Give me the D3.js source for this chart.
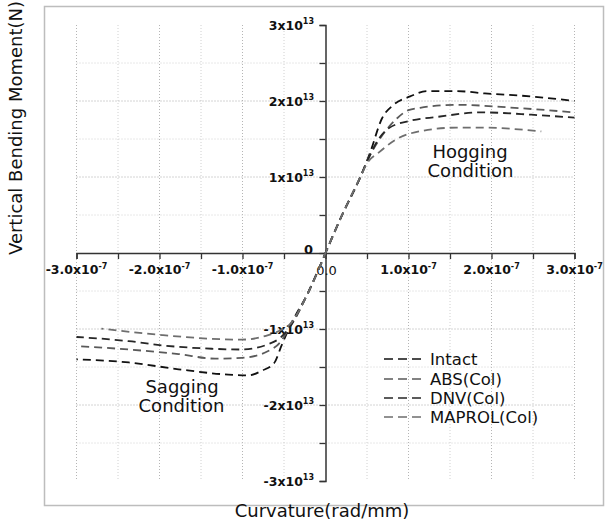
<!DOCTYPE html>
<html>
<head>
<meta charset="utf-8">
<script src="https://cdn.jsdelivr.net/npm/d3@7"></script>
<style>
  html, body { margin: 0; padding: 0; background: #fff; }
  svg { display: block; }
</style>
</head>
<body>
<svg id="chart" width="608" height="522"></svg>
<script>
// Curvature in units of 1e-7 rad/mm, moment in units of 1e13 N
const xTicks = [-3, -2, -1, 0, 1, 2, 3];
const xTickLabels = ["-3.0", "-2.0", "-1.0", "0.0", "1.0", "2.0", "3.0"];
const yTicks = [-3, -2, -1, 0, 1, 2, 3];
const yTickLabels = ["-3", "-2", "-1", "0", "1", "2", "3"];
const seriesNames = ["Intact", "ABS(Col)", "DNV(Col)", "MAPROL(Col)"];
const seriesColors = ["#111111", "#5a5a5a", "#262626", "#6e6e6e"];

const intactX = [-3.0, -2.37, -1.77, -1.17, -0.93, -0.77, -0.62, -0.53, -0.44, -0.2, 0, 0.2, 0.42, 0.54, 0.68, 0.82, 1.02, 1.22, 1.58, 1.92, 2.48, 3.0];
const intactY = [-1.40, -1.44, -1.53, -1.60, -1.61, -1.55, -1.45, -1.22, -0.99, -0.5, 0, 0.5, 1.0, 1.33, 1.77, 1.95, 2.06, 2.13, 2.13, 2.10, 2.06, 2.00];
const absX = [-3.0, -2.37, -1.77, -1.33, -1.01, -0.69, -0.55, -0.44, -0.2, 0, 0.2, 0.42, 0.52, 0.66, 0.86, 1.0, 1.14, 1.58, 2.28, 3.0];
const absY = [-1.225, -1.27, -1.33, -1.39, -1.38, -1.29, -1.18, -0.99, -0.5, 0, 0.5, 1.0, 1.25, 1.51, 1.77, 1.88, 1.91, 1.95, 1.91, 1.85];
const dnvX = [-3.0, -2.37, -1.97, -1.37, -1.01, -0.69, -0.55, -0.44, -0.2, 0, 0.2, 0.42, 0.52, 0.64, 0.76, 1.02, 1.34, 1.88, 2.48, 3.0];
const dnvY = [-1.105, -1.16, -1.215, -1.26, -1.27, -1.20, -1.12, -0.99, -0.5, 0, 0.5, 1.0, 1.25, 1.5, 1.64, 1.74, 1.79, 1.85, 1.82, 1.78];
const maprolX = [-2.7, -1.97, -1.01, -0.69, -0.53, -0.44, -0.2, 0, 0.2, 0.42, 0.5, 0.64, 0.86, 1.18, 1.58, 1.88, 2.6];
const maprolY = [-0.995, -1.08, -1.14, -1.08, -1.01, -0.95, -0.5, 0, 0.5, 1.0, 1.18, 1.32, 1.50, 1.61, 1.65, 1.65, 1.60];

const seriesX = [intactX, absX, dnvX, maprolX];
const seriesY = [intactY, absY, dnvY, maprolY];

const svg = d3.select("#chart");
const font = "'DejaVu Sans', sans-serif";

const x = d3.scaleLinear().domain([-3, 3]).range([76.5, 574.5]);
const y = d3.scaleLinear().domain([-3, 3]).range([481, 25]);

// frame
svg.append("rect").attr("x", 44.5).attr("y", 6.5).attr("width", 559).attr("height", 499)
  .attr("fill", "none").attr("stroke", "#bdbdbd").attr("stroke-width", 1.5);

// grid
const gridVals = d3.range(-3, 3.01, 0.5);
const g = svg.append("g");
g.selectAll(".vg").data(gridVals.filter(v => v !== 0)).enter().append("line")
  .attr("x1", d => x(d)).attr("x2", d => x(d)).attr("y1", y(3)).attr("y2", y(-3))
  .attr("stroke", d => Number.isInteger(d) ? "#b5b5b5" : "#d0d0d0")
  .attr("stroke-width", 1).attr("stroke-dasharray", "1,2");
g.selectAll(".hg").data(gridVals.filter(v => v !== 0 && Math.abs(v) !== 3)).enter().append("line")
  .attr("x1", x(-3)).attr("x2", x(3)).attr("y1", d => y(d)).attr("y2", d => y(d))
  .attr("stroke", d => Number.isInteger(d) ? "#a8a8a8" : "#d0d0d0")
  .attr("stroke-width", 1).attr("stroke-dasharray", "1,2");

// axes
const xAxis = d3.axisBottom(x).tickValues(gridVals).tickSize(6).tickFormat("");
const xg = svg.append("g").attr("transform", `translate(0,${y(0)})`).call(xAxis);
xg.select(".domain").attr("stroke", "#333").attr("stroke-width", 1.5);
xg.selectAll(".tick line").attr("stroke", "#333").attr("stroke-width", 1.3);

const yAxis = d3.axisLeft(y).tickValues(gridVals).tickSize(6).tickFormat("");
const yg = svg.append("g").attr("transform", `translate(${x(0)},0)`).call(yAxis);
yg.select(".domain").attr("stroke", "#333").attr("stroke-width", 1.5);
yg.selectAll(".tick line").attr("stroke", "#333").attr("stroke-width", 1.3);

// x tick labels
xTicks.forEach((v, i) => {
  if (v === 0) {
    svg.append("text").attr("x", x(0) + 1).attr("y", 275).attr("text-anchor", "middle")
      .attr("font-family", font).attr("font-size", 13).attr("fill", "#111").text(xTickLabels[i]);
    return;
  }
  const t = svg.append("text").attr("x", x(v)).attr("y", 274).attr("text-anchor", "middle")
    .attr("font-family", font).attr("font-weight", "bold").attr("font-size", 12.5).attr("fill", "#111");
  t.append("tspan").text(xTickLabels[i] + "x10");
  t.append("tspan").attr("dy", -5.5).attr("font-size", 8).text("-7");
});

// y tick labels
yTicks.forEach((v, i) => {
  if (v === 0) {
    svg.append("text").attr("x", 313).attr("y", y(0) - 4).attr("text-anchor", "end")
      .attr("dy", "0.35em").attr("font-family", font).attr("font-weight", "bold")
      .attr("font-size", 13).attr("fill", "#111").text(yTickLabels[i]);
    return;
  }
  const t = svg.append("text").attr("x", 314).attr("y", y(v) + 4.5).attr("text-anchor", "end")
    .attr("font-family", font).attr("font-weight", "bold").attr("font-size", 12.5).attr("fill", "#111");
  t.append("tspan").text(yTickLabels[i] + "x10");
  t.append("tspan").attr("dy", -5.5).attr("font-size", 8).text("13");
});

// curves: drawn outward from the origin so the dash phase matches there
const line = d3.line().x(d => x(d[0])).y(d => y(d[1])).curve(d3.curveMonotoneX);
seriesX.forEach((xs, i) => {
  const pts = xs.map((xv, j) => [xv, seriesY[i][j]]);
  const pos = pts.filter(p => p[0] >= 0);
  const neg = pts.filter(p => p[0] <= 0).reverse();
  [pos, neg].forEach(part => {
    svg.append("path").datum(part).attr("d", line).attr("fill", "none")
      .attr("stroke", seriesColors[i]).attr("stroke-width", 1.8)
      .attr("stroke-dasharray", "8,5").attr("stroke-dashoffset", 3);
  });
});

// annotations
const ann = [["Hogging", 470, 158], ["Condition", 470.5, 177], ["Sagging", 182, 393], ["Condition", 181.5, 412]];
ann.forEach(a => svg.append("text").attr("x", a[1]).attr("y", a[2]).attr("text-anchor", "middle")
  .attr("font-family", font).attr("font-size", 18).attr("fill", "#111").text(a[0]));

// legend
const legY = [359, 379, 398, 417];
seriesNames.forEach((n, i) => {
  svg.append("line").attr("x1", 384).attr("x2", 426).attr("y1", legY[i]).attr("y2", legY[i])
    .attr("stroke", seriesColors[i]).attr("stroke-width", 1.6).attr("stroke-dasharray", "9,5");
  svg.append("text").attr("x", 430).attr("y", legY[i]).attr("dy", "0.36em")
    .attr("font-family", font).attr("font-size", 16.5).attr("fill", "#111").text(n);
});

// axis titles
svg.append("text").attr("x", 322).attr("y", 517).attr("text-anchor", "middle")
  .attr("font-family", font).attr("font-size", 18).attr("fill", "#111").text("Curvature(rad/mm)");
svg.append("text").attr("transform", "translate(22,128) rotate(-90)").attr("text-anchor", "middle")
  .attr("font-family", font).attr("font-size", 18).attr("fill", "#111").text("Vertical Bending Moment(N)");
</script>
</body>
</html>
